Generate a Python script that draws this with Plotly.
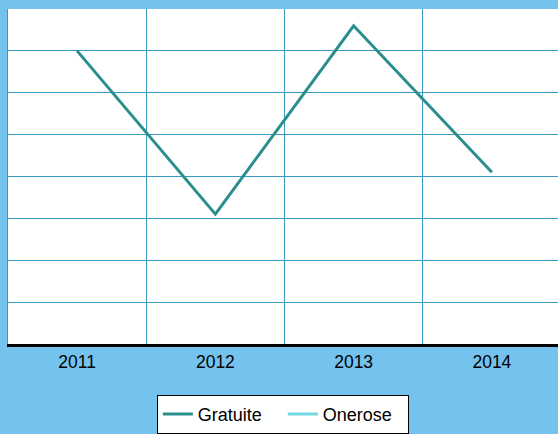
import plotly.graph_objects as go

years = ["2011", "2012", "2013", "2014"]
gratuite = [7.0, 3.1, 7.6, 4.1]
onerose = [None, None, None, None]

fig = go.Figure()
fig.add_trace(go.Scatter(x=years, y=gratuite, name="Gratuite", mode="lines",
                         line=dict(color="#2a8f8c", width=3)))
fig.add_trace(go.Scatter(x=years, y=onerose, name="Onerose", mode="lines",
                         line=dict(color="#6fd8e0", width=3)))

fig.update_layout(
    width=561, height=434,
    margin=dict(l=8, r=0, t=9, b=90, pad=0),
    paper_bgcolor="#74c2ee",
    plot_bgcolor="white",
    font=dict(family="Liberation Sans, Arial, sans-serif", color="black", size=17),
    showlegend=True,
    legend=dict(orientation="h", x=0.497, xanchor="center", y=-0.152, yanchor="top",
                bgcolor="white", bordercolor="black", borderwidth=1,
                entrywidth=80, entrywidthmode="pixels",
                font=dict(size=18)),
)
fig.update_xaxes(type="category", tickson="boundaries", ticklen=0, automargin=False,
                 showgrid=True, gridcolor="#3a98c0", gridwidth=1,
                 showline=True, linecolor="black", linewidth=3,
                 range=[-0.5, 3.5], tickfont=dict(size=17.5))
fig.update_yaxes(range=[0, 8], dtick=1, showticklabels=False, automargin=False,
                 showgrid=True, gridcolor="#3a98c0", gridwidth=1,
                 zeroline=False, showline=True, linecolor="#3a98c0", linewidth=1,
                 mirror=False)

fig.write_html("out.html",
               config={"displayModeBar": False},
               post_script="document.body.style.margin='0';document.body.style.background='#74c2ee';document.body.style.overflow='hidden';")
